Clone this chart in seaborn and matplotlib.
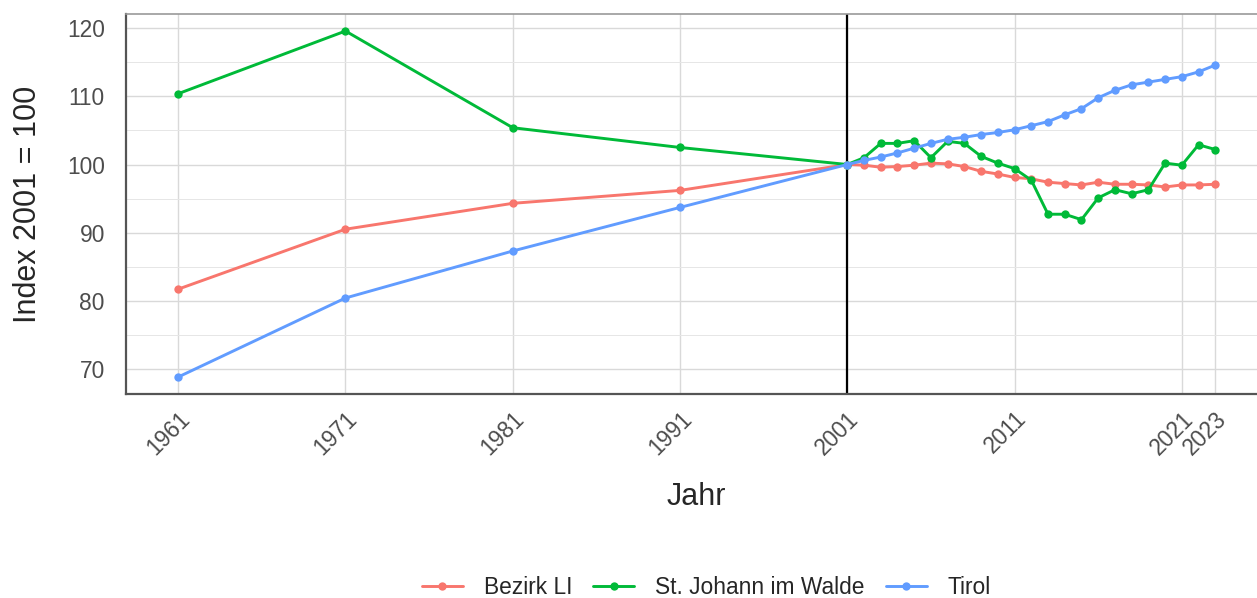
import pandas as pd
import numpy as np
import matplotlib
matplotlib.use("Agg")
import matplotlib.pyplot as plt
from matplotlib.ticker import MultipleLocator
import seaborn as sns

sns.set_style("white")
plt.rcParams['font.family'] = ['Liberation Sans', 'DejaVu Sans']

years = [1961, 1971, 1981, 1991] + list(range(2001, 2024))

bezirk_li = [81.7, 90.5, 94.3, 96.2,
             100.0, 99.9, 99.6, 99.7, 99.9, 100.2, 100.1, 99.7, 99.0, 98.6,
             98.1, 97.9, 97.4, 97.2, 97.0, 97.4, 97.1, 97.1, 97.0, 96.7,
             97.0, 97.0, 97.1]
st_johann = [110.4, 119.6, 105.4, 102.5,
             100.0, 101.0, 103.1, 103.1, 103.5, 101.0, 103.4, 103.1, 101.2, 100.2,
             99.4, 97.7, 92.7, 92.7, 91.9, 95.1, 96.3, 95.7, 96.3, 100.2,
             99.9, 102.9, 102.2]
tirol = [68.8, 80.4, 87.3, 93.7,
         100.0, 100.6, 101.1, 101.7, 102.4, 103.1, 103.7, 104.0, 104.4, 104.7,
         105.1, 105.7, 106.3, 107.3, 108.2, 109.8, 110.9, 111.7, 112.1, 112.5,
         112.9, 113.6, 114.6]

regions = ["Bezirk LI", "St. Johann im Walde", "Tirol"]
colors = ["#F8766D", "#00BA38", "#619CFF"]
x_breaks = [1961, 1971, 1981, 1991, 2001, 2011, 2021, 2023]

df = pd.DataFrame({
    "Jahr": years * 3,
    "Index": bezirk_li + st_johann + tirol,
    "Region": [regions[0]] * len(years) + [regions[1]] * len(years) + [regions[2]] * len(years),
})

fig = plt.figure(figsize=(12.57, 5.98), dpi=100)
ax = fig.add_axes([0.1, 0.3411, 0.9086, 0.6355])

# reference line at base year
ax.axvline(2001, color="black", lw=1.6, zorder=1)

sns.lineplot(data=df, x="Jahr", y="Index", hue="Region", palette=colors,
             marker="o", markersize=6, markeredgewidth=0, lw=2.1,
             legend=False, ax=ax, zorder=3)

ax.set_xlim(1957.86, 2026.14)
ax.set_ylim(66.3, 122.1)
ax.set_xticks(x_breaks)
ax.set_xticklabels([str(b) for b in x_breaks], rotation=45, ha="right",
                   rotation_mode="anchor", fontsize=16.4, color="#4D4D4D")
ax.yaxis.set_major_locator(MultipleLocator(10))
ax.yaxis.set_minor_locator(MultipleLocator(5))
ax.tick_params(axis="both", which="major", length=5, width=1, color="#555555")
ax.tick_params(axis="x", pad=4.5)
ax.tick_params(axis="y", labelsize=16.4, labelcolor="#4D4D4D", pad=10)
ax.tick_params(axis="y", which="minor", length=0)

ax.grid(True, which="major", color="#D9D9D9", lw=1)
ax.grid(True, which="minor", axis="y", color="#E6E6E6", lw=0.7)
ax.set_axisbelow(True)

for side in ["left", "bottom"]:
    ax.spines[side].set_color("#555555")
    ax.spines[side].set_linewidth(1.6)
ax.spines["top"].set_color("#999999")
ax.spines["top"].set_linewidth(1.2)
ax.spines["right"].set_visible(False)

ax.set_xlabel("Jahr", fontsize=22)
ax.set_ylabel("Index 2001 = 100", fontsize=22)
ax.xaxis.set_label_coords(0.5, -0.2316)
ax.yaxis.set_label_coords(-0.072, 0.5)

handles = [plt.Line2D([], [], color=c, lw=2.1, marker="o", markersize=6,
                      markeredgewidth=0) for c in colors]
fig.legend(handles, regions, loc="center", bbox_to_anchor=(706.5 / 1257, 0.017),
           ncol=3, frameon=False, fontsize=16.4, handlelength=1.8,
           columnspacing=0.92, handletextpad=0.92)

fig.savefig("out.png", dpi=100)
